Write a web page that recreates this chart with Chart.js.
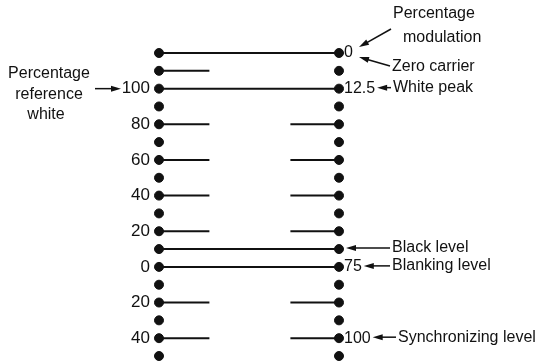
<!DOCTYPE html>
<html>
<head>
<meta charset="utf-8">
<script src="https://cdn.jsdelivr.net/npm/chart.js@4/dist/chart.umd.min.js"></script>
<style>
  body { margin: 0; background: #fff; }
</style>
</head>
<body>
<canvas id="chart" width="549" height="362"></canvas>
<script>
// levels of the dot columns (left scale units, 10 per dot)
const dotLevels = [120, 110, 100, 90, 80, 70, 60, 50, 40, 30, 20, 10, 0, -10, -20, -30, -40, -50];

// left scale: percentage reference white
const leftTickValues = [100, 80, 60, 40, 20, 0, -20, -40];
const leftTickLabels = ["100", "80", "60", "40", "20", "0", "20", "40"];

// right scale: percentage modulation
const rightTickValues = [120, 100, 0, -40];
const rightTickLabels = ["0", "12.5", "75", "100"];

// horizontal lines
const fullLines = [120, 100, 10, 0];
const leftStubs = [110, 80, 60, 40, 20, -20, -40];
const rightStubs = [80, 60, 40, 20, -20, -40];

// notes on the right side
const noteLevels = [100, 10, 0, -40];
const noteTexts = ["White peak", "Black level", "Blanking level", "Synchronizing level"];

const LEFT_STUB_END = 0.28;
const RIGHT_STUB_START = 0.73;
const INK = "#111";
const FONT = "'Liberation Sans', Arial, sans-serif";
const RIGHT_FONT_SIZE = 16;
const RIGHT_PAD = 5;

function segment(x1, x2, y) {
  return {
    type: "line",
    data: [{ x: x1, y: y }, { x: x2, y: y }],
    borderColor: INK,
    borderWidth: 2,
    pointRadius: 0,
    showLine: true,
    clip: false,
  };
}

const datasets = [];
fullLines.forEach((v) => datasets.push(segment(0, 1, v)));
leftStubs.forEach((v) => datasets.push(segment(0, LEFT_STUB_END, v)));
rightStubs.forEach((v) => datasets.push(segment(RIGHT_STUB_START, 1, v)));

[0, 1].forEach((col) => {
  datasets.push({
    type: "scatter",
    data: dotLevels.map((v) => ({ x: col, y: v })),
    backgroundColor: INK,
    borderColor: INK,
    pointRadius: 4.5,
    pointHoverRadius: 4.5,
    clip: false,
  });
});

function arrow(ctx, x1, y1, x2, y2) {
  const a = Math.atan2(y2 - y1, x2 - x1);
  const len = 10, hw = 3;
  ctx.beginPath();
  ctx.moveTo(x1, y1);
  ctx.lineTo(x2 - Math.cos(a) * len * 0.6, y2 - Math.sin(a) * len * 0.6);
  ctx.stroke();
  ctx.beginPath();
  ctx.moveTo(x2, y2);
  ctx.lineTo(x2 - Math.cos(a) * len - Math.sin(a) * hw, y2 - Math.sin(a) * len + Math.cos(a) * hw);
  ctx.lineTo(x2 - Math.cos(a) * len + Math.sin(a) * hw, y2 - Math.sin(a) * len - Math.cos(a) * hw);
  ctx.closePath();
  ctx.fill();
}

const notesPlugin = {
  id: "notes",
  afterDraw(chart) {
    const ctx = chart.ctx;
    const ys = chart.scales.y;
    const right = chart.chartArea.right;
    ctx.save();
    ctx.fillStyle = INK;
    ctx.strokeStyle = INK;
    ctx.lineWidth = 1.5;
    ctx.textBaseline = "middle";

    // where each right-hand label ends
    ctx.font = RIGHT_FONT_SIZE + "px " + FONT;
    const labelEnd = (v) => {
      const i = rightTickValues.indexOf(v);
      const w = i < 0 ? 0 : ctx.measureText(rightTickLabels[i]).width;
      return right + RIGHT_PAD + w + 2;
    };

    ctx.font = "16px " + FONT;

    // left block
    ctx.textAlign = "center";
    ctx.fillText("Percentage", 49, 74);
    ctx.fillText("reference", 49, 95);
    ctx.fillText("white", 46, 115);
    const y100 = ys.getPixelForValue(100);
    arrow(ctx, 95, y100, 121, y100);

    // top right
    ctx.textAlign = "left";
    ctx.fillText("Percentage", 393, 14);
    ctx.fillText("modulation", 403, 38);
    arrow(ctx, 391, 29, 359, 47);
    ctx.fillText("Zero carrier", 392, 67);
    arrow(ctx, 390, 66, 359, 57);

    // level notes
    const starts = [393, 392, 392, 398];
    noteLevels.forEach((v, i) => {
      const y = ys.getPixelForValue(v) - 1;
      const tip = v === 10 ? right + 7 : labelEnd(v);
      ctx.fillText(noteTexts[i], starts[i], y);
      arrow(ctx, starts[i] - 2, y, tip, y);
    });
    ctx.restore();
  },
};

function fitWidth(w) {
  return (s) => {
    s.width = w;
    s.paddingTop = 0;
    s.paddingBottom = 0;
  };
}

new Chart(document.getElementById("chart"), {
  type: "scatter",
  data: { datasets: datasets },
  options: {
    responsive: false,
    animation: false,
    events: [],
    layout: { padding: { left: 0, right: 0, top: 53, bottom: 6 } },
    plugins: { legend: { display: false }, tooltip: { enabled: false } },
    scales: {
      x: { type: "linear", min: 0, max: 1, display: false },
      y: {
        type: "linear",
        position: "left",
        min: -50,
        max: 120,
        afterBuildTicks: (s) => { s.ticks = leftTickValues.map((v) => ({ value: v })); },
        afterFit: fitWidth(159),
        grid: { display: false, drawTicks: false },
        border: { display: false },
        ticks: {
          padding: 9,
          color: INK,
          font: { family: FONT, size: 17 },
          callback: (v) => leftTickLabels[leftTickValues.indexOf(v)],
        },
      },
      y2: {
        type: "linear",
        position: "right",
        min: -50,
        max: 120,
        afterBuildTicks: (s) => { s.ticks = rightTickValues.map((v) => ({ value: v })); },
        afterFit: fitWidth(210),
        grid: { display: false, drawTicks: false },
        border: { display: false },
        ticks: {
          padding: RIGHT_PAD,
          color: INK,
          font: { family: FONT, size: RIGHT_FONT_SIZE },
          callback: (v) => rightTickLabels[rightTickValues.indexOf(v)],
        },
      },
    },
  },
  plugins: [notesPlugin],
});
</script>
</body>
</html>
